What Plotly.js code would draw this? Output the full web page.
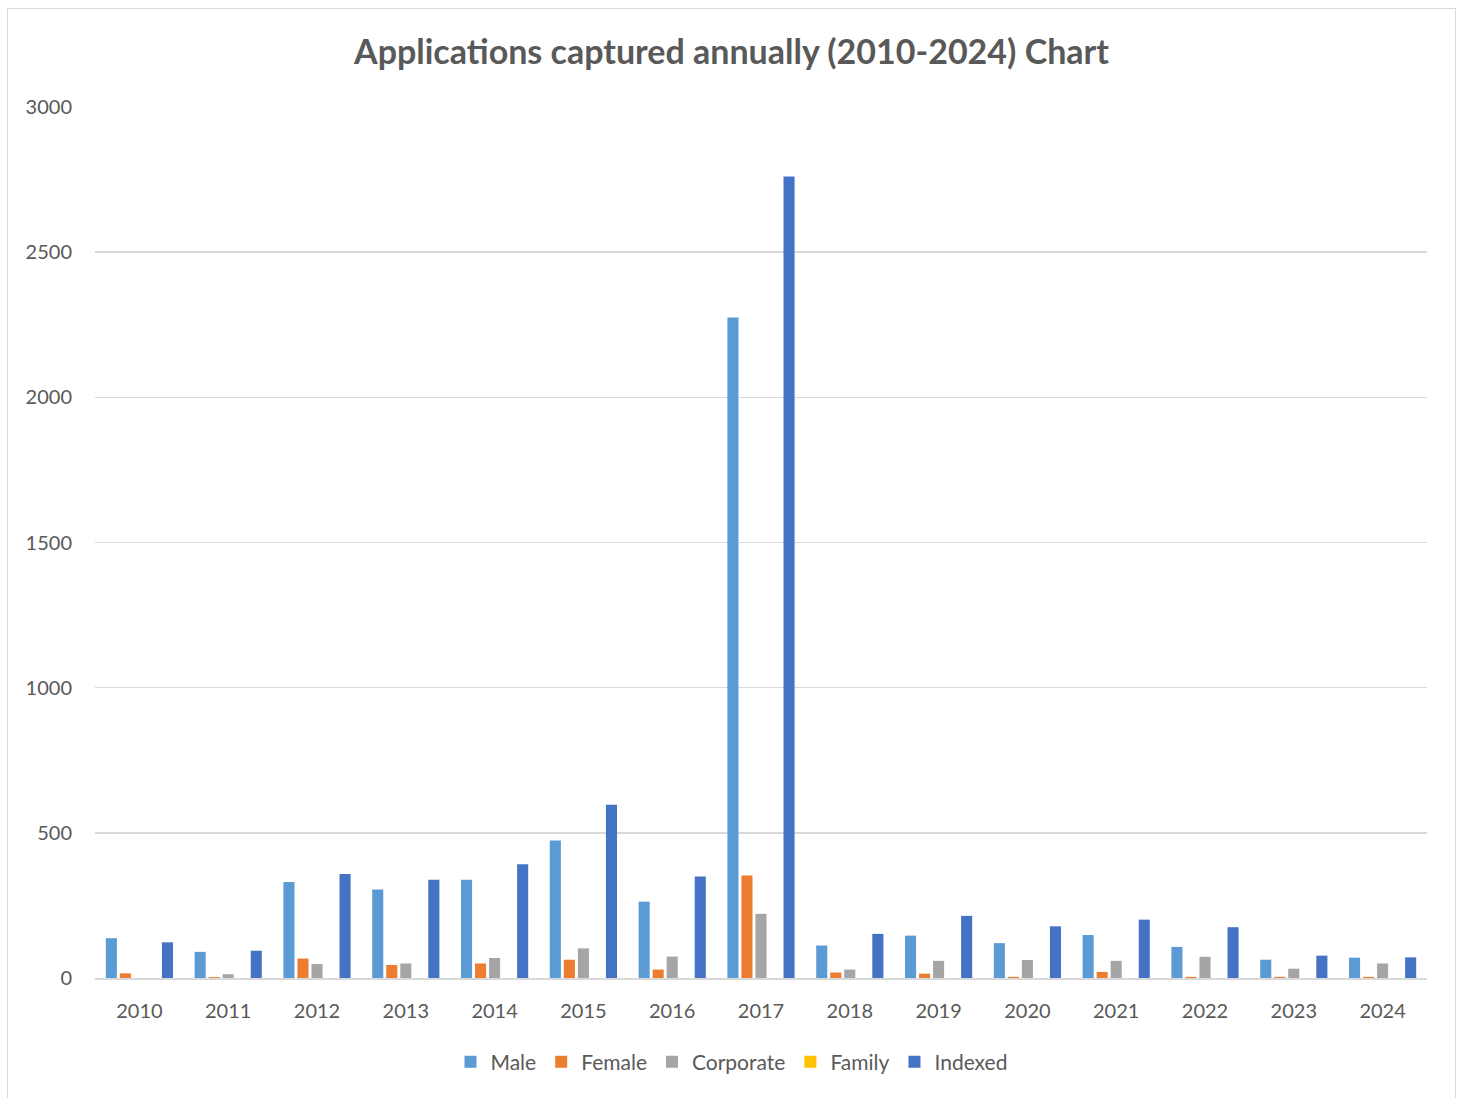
<!DOCTYPE html>
<html>
<head>
<meta charset="utf-8">
<script src="https://cdn.plot.ly/plotly-3.0.1.min.js"></script>
<style>
html,body{margin:0;padding:0;background:#fff;overflow:hidden;}
#frame{position:absolute;left:7px;top:8px;width:1449px;height:1100px;border:1.5px solid #d9d9d9;box-sizing:border-box;pointer-events:none;}
#chart{position:absolute;left:0;top:0;width:1463px;height:1098px;}
</style>
</head>
<body>
<div id="chart"></div>
<div id="frame"></div>
<script>
const years = ['2010','2011','2012','2013','2014','2015','2016','2017','2018','2019','2020','2021','2022','2023','2024'];
const male      = [137, 90, 331, 305, 338, 474, 263, 2275, 112, 146, 120, 148, 107, 63, 70];
const female    = [16, 3, 67, 45, 50, 63, 29, 353, 19, 15, 4, 21, 4, 4, 4];
const corporate = [0, 13, 48, 50, 69, 102, 74, 221, 29, 59, 62, 59, 73, 32, 50];
const family    = [0, 0, 0, 0, 0, 0, 0, 0, 0, 0, 0, 0, 0, 0, 0];
const indexed   = [123, 94, 358, 338, 392, 597, 350, 2761, 152, 214, 178, 201, 175, 77, 71];
const yTicks = [0, 500, 1000, 1500, 2000, 2500, 3000];

const font = 'Lato, "Open Sans", "DejaVu Sans", sans-serif';
const series = [
  {name:'Male', y:male, color:'#5B9BD5'},
  {name:'Female', y:female, color:'#ED7D31'},
  {name:'Corporate', y:corporate, color:'#A5A5A5'},
  {name:'Family', y:family, color:'#FFC000'},
  {name:'Indexed', y:indexed, color:'#4472C4'}
];
const data = series.map(s => ({
  type:'bar', name:s.name, x:years, y:s.y,
  marker:{color:s.color, line:{width:0}}
}));

const layout = {
  width:1463, height:1098,
  margin:{l:95, r:36, t:107, b:120},
  paper_bgcolor:'#fff', plot_bgcolor:'#fff',
  barmode:'group', bargap:0.21, bargroupgap:0.21,
  title:{text:'<b>Applications captured annually (2010-2024) Chart</b>',
    font:{family:font, size:34, color:'#595959'},
    x:0.5, xref:'container', xanchor:'center',
    y:1-52/1098, yref:'container', yanchor:'middle'},
  xaxis:{type:'category', tickfont:{family:font, size:20, color:'#595959'},
    showgrid:false, showline:true, linecolor:'#d9d9d9', linewidth:2,
    ticks:'', ticklabelstandoff:14, fixedrange:true},
  yaxis:{range:[0,3000], tickvals:yTicks, ticktext:yTicks.map(String),
    tickfont:{family:font, size:20, color:'#595959'},
    showgrid:true, gridcolor:'#d9d9d9', gridwidth:1.5,
    zeroline:false, showline:false, ticks:'', ticklabelstandoff:22, fixedrange:true},
  showlegend:true,
  legend:{orientation:'h', xref:'container', x:0.5, xanchor:'center',
    yref:'container', y:1-1062/1098, yanchor:'middle',
    font:{family:font, size:21, color:'#595959'}, itemwidth:30, traceorder:'normal'},
  hovermode:false
};
Plotly.newPlot('chart', data, layout, {displayModeBar:false, staticPlot:true});
</script>
</body>
</html>
